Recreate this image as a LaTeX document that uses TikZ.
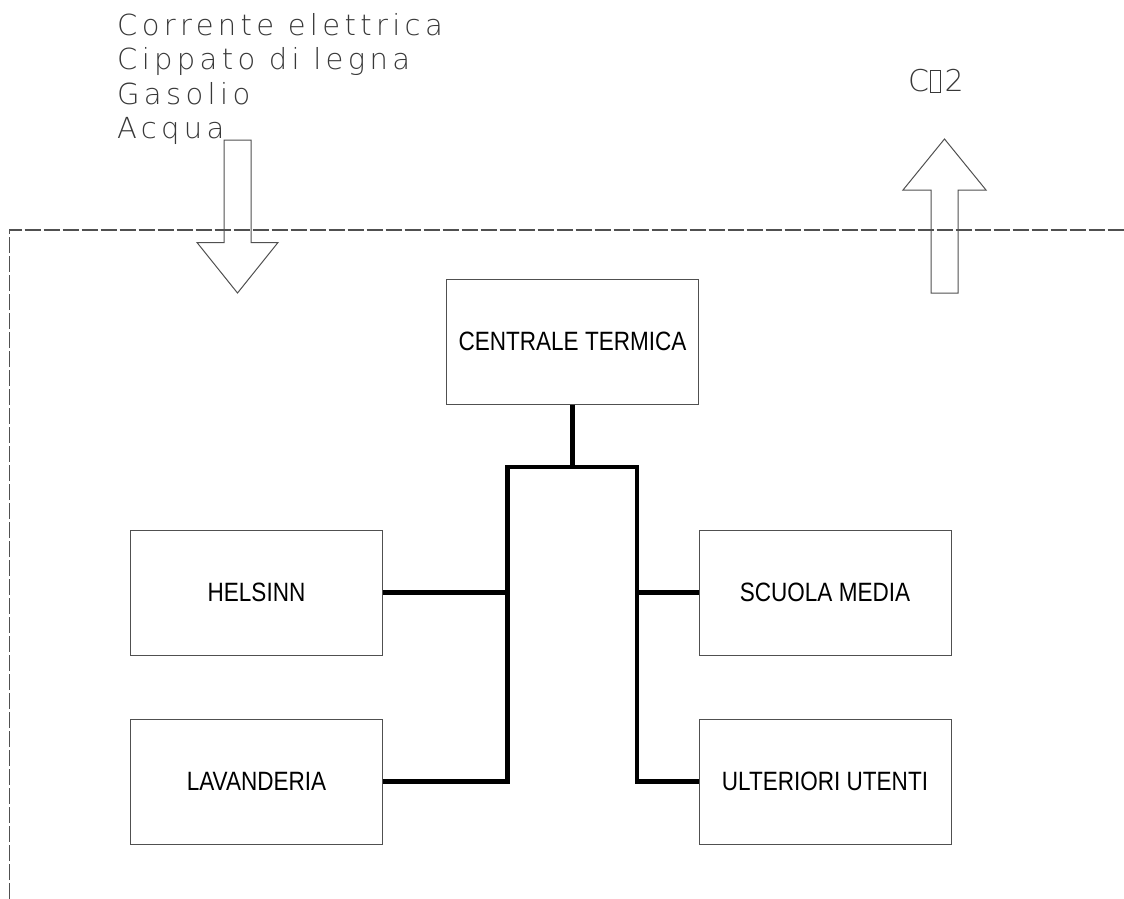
\documentclass[tikz,border=0pt]{standalone}
\usepackage{fontspec}
\setmainfont{Liberation Sans}
\newfontfamily\boxfont[FakeStretch=0.85]{Liberation Sans}
\newfontfamily\cadfont[LetterSpace=15]{DejaVu Sans ExtraLight}
\newfontfamily\cadplain{DejaVu Sans ExtraLight}
\newcommand\missingglyph{{\setlength{\fboxsep}{0pt}\setlength{\fboxrule}{1pt}\fbox{\rule{0pt}{21pt}\hspace{8.5pt}}}}
\definecolor{linegray}{HTML}{505050}
\definecolor{textgray}{HTML}{383838}
\tikzset{
  unitbox/.style={draw=linegray, line width=1pt, minimum width=252pt, minimum height=125pt, inner sep=0pt,
                  font=\boxfont\fontsize{26.5pt}{30pt}\selectfont, text=black},
  bus/.style={line width=4.2pt, line join=miter, black},
  bigarrow/.style={draw=linegray, line width=1pt, line join=miter},
  boundary/.style={draw=linegray, line width=1.2pt, dash pattern=on 16pt off 3pt},
  cadlabel/.style={anchor=base west, inner sep=0pt, text=textgray, font=\cadfont\fontsize{29pt}{32pt}\selectfont},
}
\begin{document}
\begin{tikzpicture}[x=1pt,y=-1pt]
\useasboundingbox (0,0) rectangle (1124,899);

% system boundary
\draw[boundary] (9.5,899) -- (9.5,230) -- (1124,230);

% input labels
\node[cadlabel] (l1) at (117,36) {Corrente elettrica};
\node[cadlabel] (l2) at (117,70) {Cippato di legna};
\node[cadlabel] (l3) at (117,104) {Gasolio};
\node[cadlabel] (l4) at (117,138) {Acqua};

% output label
\node[anchor=base west, inner sep=0pt, text=textgray, font=\cadplain\fontsize{30pt}{32pt}\selectfont] (co2) at (908,92)
  {C\kern1pt\missingglyph\kern4pt 2};

% input arrow (down)
\draw[bigarrow] (224,140) -- (224,242.5) -- (197,242.5) -- (237.5,293) -- (278,242.5) -- (251,242.5) -- (251,140) -- cycle;
% output arrow (up)
\draw[bigarrow] (931,293) -- (931,190) -- (903,190) -- (944.5,139) -- (986,190) -- (958,190) -- (958,293) -- cycle;

% boxes
\node[unitbox] (ct)  at (572.5,341.5) {CENTRALE TERMICA};
\node[unitbox] (hel) at (256.5,592.5) {HELSINN};
\node[unitbox] (scu) at (825,592.5)   {SCUOLA MEDIA};
\node[unitbox] (lav) at (256.5,781.5) {LAVANDERIA};
\node[unitbox] (ult) at (825,781.5)   {ULTERIORI UTENTI};

% distribution network
\coordinate (bl) at (507.5,467);
\coordinate (br) at (637,467);
\draw[bus] (ct.south) -- (ct.south |- bl);
\draw[bus] (lav.east) -- (lav.east -| bl) -- (bl) -- (br) -- (ult.west -| br) -- (ult.west);
\draw[bus] (hel.east) -- (hel.east -| bl);
\draw[bus] (scu.west) -- (scu.west -| br);
\end{tikzpicture}
\end{document}
